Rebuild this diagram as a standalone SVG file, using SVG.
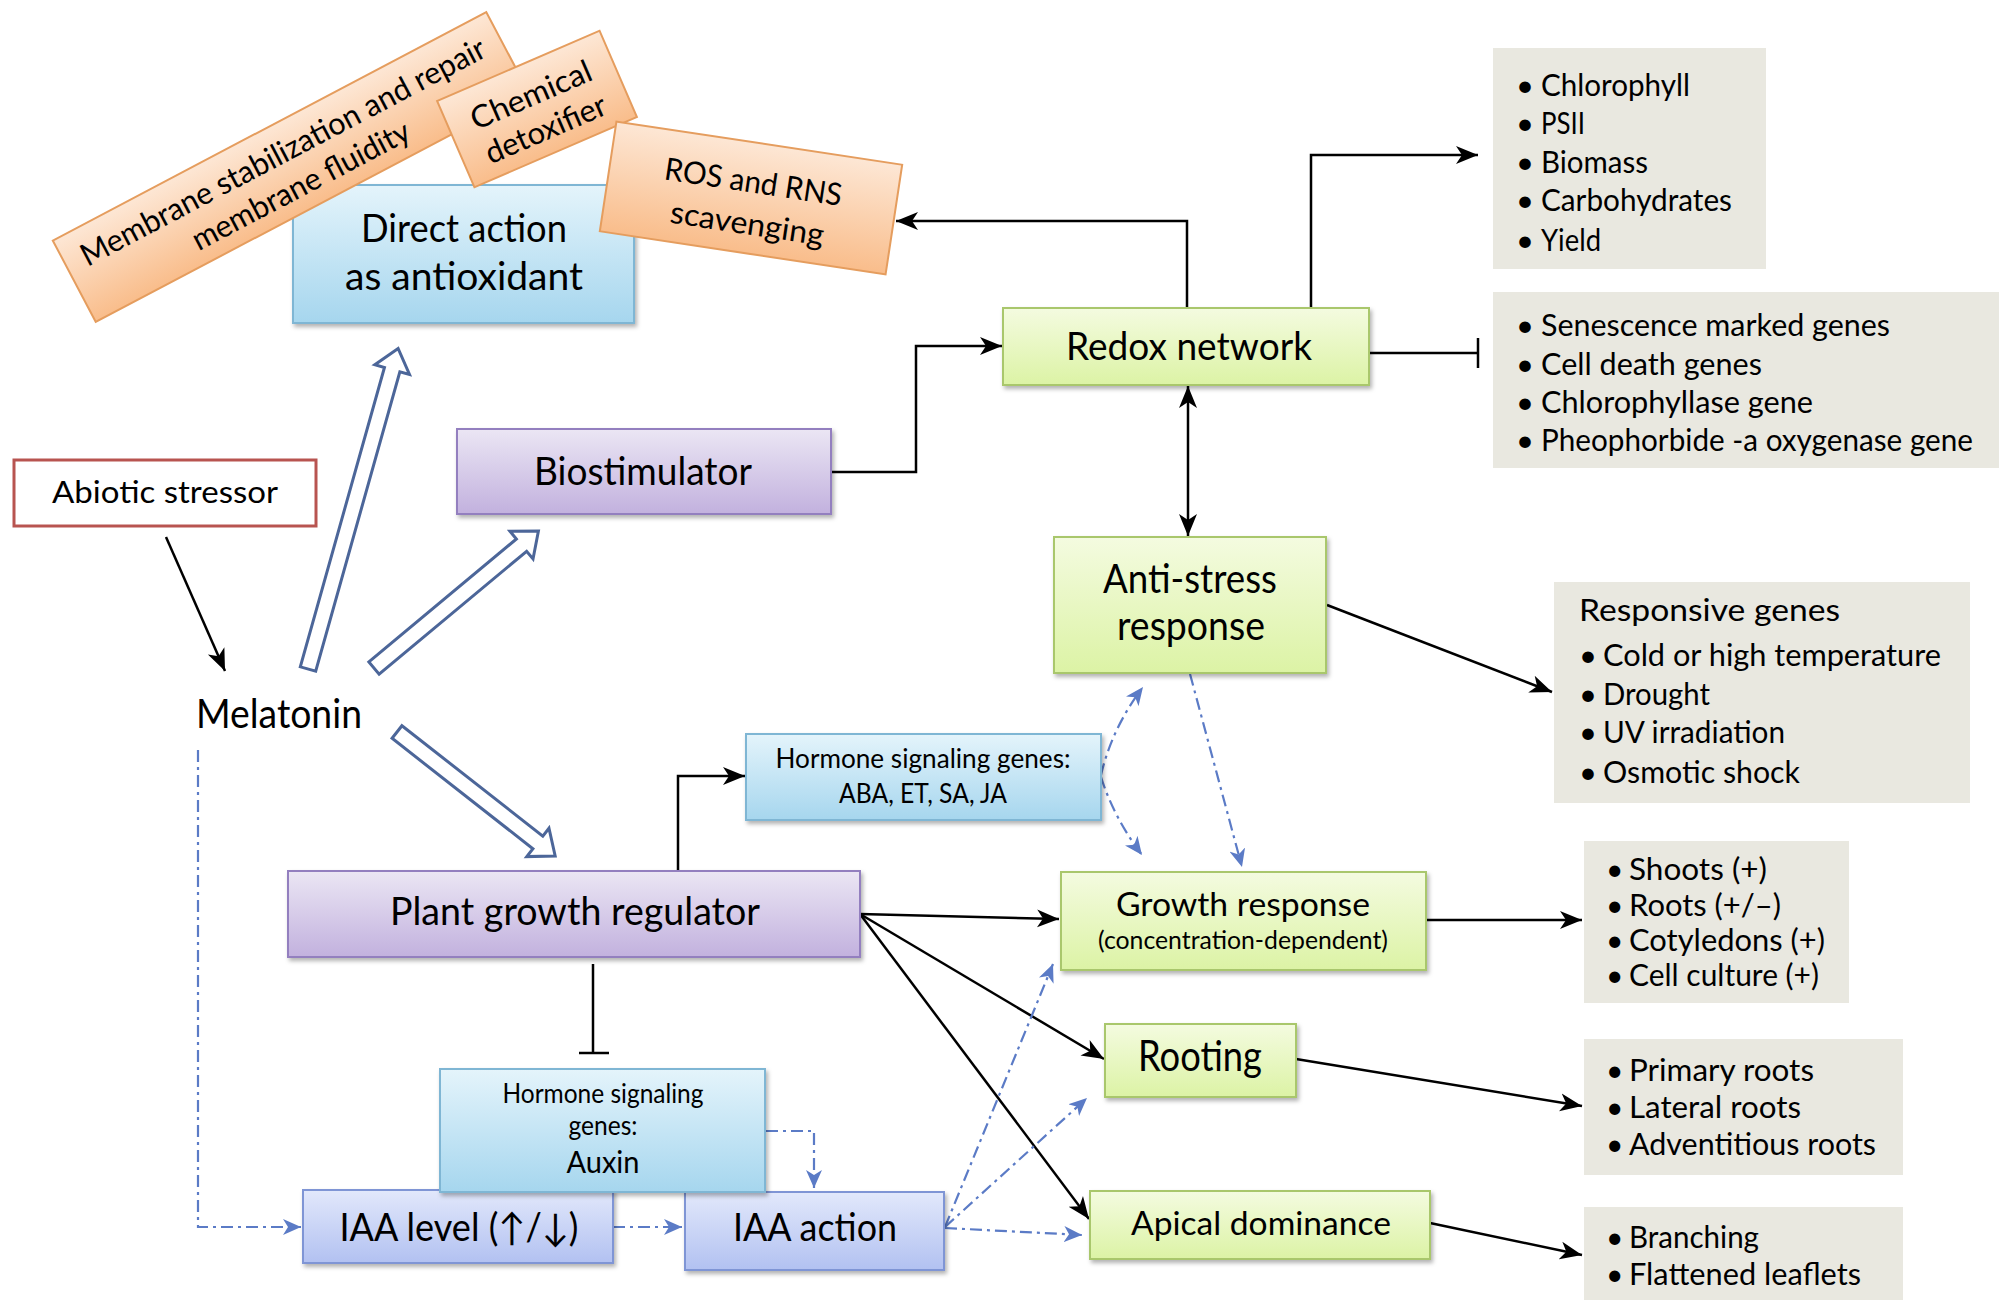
<svg xmlns="http://www.w3.org/2000/svg" width="2001" height="1300" viewBox="0 0 2001 1300">
<defs>
<style>
.t{font-family:Lato,'Liberation Sans','DejaVu Sans',sans-serif;fill:#000;transform:translate(0px,2.5px);}
.c{text-anchor:middle;}
.ln{stroke:#000;stroke-width:2.5;fill:none;}
.dl{stroke:#5B7BC6;stroke-width:2.2;fill:none;stroke-dasharray:12 5 3 5;}
.ha{fill:#fff;stroke:#4C6699;stroke-width:3;stroke-linejoin:miter;}
.gray{fill:#E9E8E0;}
.or{fill:url(#gO);stroke:#E59D5E;stroke-width:2;}
.bl{fill:url(#gB);stroke:#7FB6D4;stroke-width:2;filter:url(#sh);}
.pu{fill:url(#gP);stroke:#937FBF;stroke-width:2;filter:url(#sh);}
.gr{fill:url(#gG);stroke:#A9C76C;stroke-width:2;filter:url(#sh);}
.ia{fill:url(#gI);stroke:#7F95D5;stroke-width:2;filter:url(#sh);}
</style>
<linearGradient id="gO" x1="0" y1="0" x2="0" y2="1"><stop offset="0" stop-color="#FDE7D5"/><stop offset="1" stop-color="#F9BD8B"/></linearGradient>
<linearGradient id="gB" x1="0" y1="0" x2="0" y2="1"><stop offset="0" stop-color="#E4F4FB"/><stop offset="1" stop-color="#A6D6EE"/></linearGradient>
<linearGradient id="gP" x1="0" y1="0" x2="0" y2="1"><stop offset="0" stop-color="#EBE6F4"/><stop offset="1" stop-color="#C2B1DE"/></linearGradient>
<linearGradient id="gG" x1="0" y1="0" x2="0" y2="1"><stop offset="0" stop-color="#F4FBE0"/><stop offset="1" stop-color="#DCF3A5"/></linearGradient>
<linearGradient id="gI" x1="0" y1="0" x2="0" y2="1"><stop offset="0" stop-color="#E2E8FB"/><stop offset="1" stop-color="#B2C1F1"/></linearGradient>
<filter id="sh" x="-10%" y="-10%" width="130%" height="140%"><feDropShadow dx="2" dy="3" stdDeviation="2" flood-color="#000" flood-opacity="0.3"/></filter>
<marker id="ah" markerUnits="userSpaceOnUse" markerWidth="24" markerHeight="20" refX="22" refY="10" orient="auto-start-reverse"><path d="M0,1 L22,10 L0,19 L6,10 z" fill="#000"/></marker>
<marker id="bh" markerUnits="userSpaceOnUse" markerWidth="20" markerHeight="16" refX="18" refY="8" orient="auto"><path d="M0,0 L18,8 L0,16 L5,8 z" fill="#5B7BC6"/></marker>
</defs>
<rect width="2001" height="1300" fill="#fff"/>

<g id="connectors">
<line class="ln" x1="166" y1="537" x2="225" y2="671" marker-end="url(#ah)"/>
<polyline class="ln" points="1187,308 1187,221 896,221" marker-end="url(#ah)"/>
<polyline class="ln" points="1311,308 1311,155 1478,155" marker-end="url(#ah)"/>
<line class="ln" x1="1369" y1="353" x2="1478" y2="353"/>
<line class="ln" x1="1478" y1="338" x2="1478" y2="368"/>
<polyline class="ln" points="831,472 916,472 916,346 1002,346" marker-end="url(#ah)"/>
<line class="ln" x1="1188" y1="386" x2="1188" y2="536" marker-start="url(#ah)" marker-end="url(#ah)"/>
<line class="ln" x1="1327" y1="605" x2="1552" y2="692" marker-end="url(#ah)"/>
<polyline class="ln" points="678,871 678,776 745,776" marker-end="url(#ah)"/>
<line class="ln" x1="860" y1="914" x2="1059" y2="919" marker-end="url(#ah)"/>
<line class="ln" x1="860" y1="914" x2="1104" y2="1059" marker-end="url(#ah)"/>
<line class="ln" x1="860" y1="914" x2="1089" y2="1219" marker-end="url(#ah)"/>
<line class="ln" x1="593" y1="964" x2="593" y2="1053"/>
<line class="ln" x1="579" y1="1053" x2="609" y2="1053"/>
<line class="ln" x1="1426" y1="920" x2="1582" y2="920" marker-end="url(#ah)"/>
<line class="ln" x1="1296" y1="1059" x2="1582" y2="1106" marker-end="url(#ah)"/>
<line class="ln" x1="1430" y1="1223" x2="1582" y2="1255" marker-end="url(#ah)"/>

<polyline class="dl" points="198,750 198,1227 301,1227" marker-end="url(#bh)"/>
<line class="dl" x1="613" y1="1227" x2="682" y2="1227" marker-end="url(#bh)"/>
<polyline class="dl" points="766,1131 814,1131 814,1188" marker-end="url(#bh)"/>
<line class="dl" x1="945" y1="1227" x2="1053" y2="964" marker-end="url(#bh)"/>
<line class="dl" x1="945" y1="1227" x2="1087" y2="1098" marker-end="url(#bh)"/>
<line class="dl" x1="945" y1="1228" x2="1082" y2="1235" marker-end="url(#bh)"/>
<path class="dl" d="M1101,775 Q1112,728 1143,687" marker-end="url(#bh)"/>
<path class="dl" d="M1101,777 Q1114,818 1142,855" marker-end="url(#bh)"/>
<line class="dl" x1="1190" y1="674" x2="1242" y2="867" marker-end="url(#bh)"/>

<polygon class="ha" transform="translate(308,669) rotate(-74.3)" points="0,-8 311,-8 311,-18 333,0 311,18 311,8 0,8"/>
<polygon class="ha" transform="translate(374,668) rotate(-39.8)" points="0,-8 192,-8 192,-18 214,0 192,18 192,8 0,8"/>
<polygon class="ha" transform="translate(397,732) rotate(38.1)" points="0,-8 179,-8 179,-18 201,0 179,18 179,8 0,8"/>
</g>

<g id="direct-action">
<rect class="bl" x="293" y="185" width="341" height="138"/>
<text class="t c" x="464" y="239" font-size="38" textLength="206" lengthAdjust="spacingAndGlyphs">Direct action</text>
<text class="t c" x="464" y="287" font-size="38" textLength="238" lengthAdjust="spacingAndGlyphs">as antioxidant</text>
</g>

<g id="membrane" transform="translate(291,167) rotate(-27.8)">
<rect class="or" x="-245" y="-46" width="490" height="92"/>
<text class="t c" x="0" y="-9" font-size="31" textLength="453" lengthAdjust="spacingAndGlyphs">Membrane stabilization and repair</text>
<text class="t c" x="0" y="29" font-size="31" textLength="242" lengthAdjust="spacingAndGlyphs">membrane fluidity</text>
</g>

<g id="chemical" transform="translate(537,109) rotate(-23.4)">
<rect class="or" x="-88.5" y="-47" width="177" height="94"/>
<text class="t c" x="0" y="-7" font-size="31" textLength="129" lengthAdjust="spacingAndGlyphs">Chemical</text>
<text class="t c" x="0" y="30" font-size="31" textLength="129" lengthAdjust="spacingAndGlyphs">detoxifier</text>
</g>

<g id="ros" transform="translate(751,198) rotate(8.6)">
<rect class="or" x="-144.5" y="-55.5" width="289" height="111"/>
<text class="t c" x="0" y="-8" font-size="31" textLength="179" lengthAdjust="spacingAndGlyphs">ROS and RNS</text>
<text class="t c" x="0" y="34" font-size="31" textLength="155" lengthAdjust="spacingAndGlyphs">scavenging</text>
</g>

<g id="abiotic">
<rect x="14" y="460" width="302" height="66" fill="#fff" stroke="#B85450" stroke-width="3"/>
<text class="t c" x="165" y="500" font-size="31" textLength="226" lengthAdjust="spacingAndGlyphs">Abiotic stressor</text>
</g>

<g id="melatonin">
<text class="t c" x="279" y="725" font-size="40" textLength="166" lengthAdjust="spacingAndGlyphs">Melatonin</text>
</g>

<g id="biostimulator">
<rect class="pu" x="457" y="429" width="374" height="85"/>
<text class="t c" x="643" y="482" font-size="38" textLength="218" lengthAdjust="spacingAndGlyphs">Biostimulator</text>
</g>

<g id="redox">
<rect class="gr" x="1003" y="308" width="366" height="77"/>
<text class="t c" x="1189" y="357" font-size="38" textLength="246" lengthAdjust="spacingAndGlyphs">Redox network</text>
</g>

<g id="anti-stress">
<rect class="gr" x="1054" y="537" width="272" height="136"/>
<text class="t c" x="1190" y="590" font-size="40" textLength="174" lengthAdjust="spacingAndGlyphs">Anti-stress</text>
<text class="t c" x="1191" y="637" font-size="40" textLength="148" lengthAdjust="spacingAndGlyphs">response</text>
</g>

<g id="hormone-aba">
<rect class="bl" x="746" y="734" width="355" height="86"/>
<text class="t c" x="923" y="765" font-size="26" textLength="295" lengthAdjust="spacingAndGlyphs">Hormone signaling genes:</text>
<text class="t c" x="923" y="800" font-size="26" textLength="168" lengthAdjust="spacingAndGlyphs">ABA, ET, SA, JA</text>
</g>

<g id="plant-growth-regulator">
<rect class="pu" x="288" y="871" width="572" height="86"/>
<text class="t c" x="575" y="922" font-size="38" textLength="370" lengthAdjust="spacingAndGlyphs">Plant growth regulator</text>
</g>

<g id="growth-response">
<rect class="gr" x="1061" y="872" width="365" height="98"/>
<text class="t c" x="1243" y="913" font-size="33" textLength="254" lengthAdjust="spacingAndGlyphs">Growth response</text>
<text class="t c" x="1243" y="946" font-size="25" textLength="290" lengthAdjust="spacingAndGlyphs">(concentration-dependent)</text>
</g>

<g id="rooting">
<rect class="gr" x="1105" y="1024" width="191" height="73"/>
<text class="t c" x="1200" y="1068" font-size="43" textLength="124" lengthAdjust="spacingAndGlyphs">Rooting</text>
</g>

<g id="apical-dominance">
<rect class="gr" x="1090" y="1191" width="340" height="68"/>
<text class="t c" x="1261" y="1232" font-size="33" textLength="260" lengthAdjust="spacingAndGlyphs">Apical dominance</text>
</g>

<g id="iaa-level">
<rect class="ia" x="303" y="1190" width="310" height="73"/>
<text class="t c" x="459" y="1238" font-size="38" textLength="239" lengthAdjust="spacingAndGlyphs">IAA level (↑/↓)</text>
</g>

<g id="iaa-action">
<rect class="ia" x="685" y="1192" width="259" height="78"/>
<text class="t c" x="815" y="1238" font-size="38" textLength="164" lengthAdjust="spacingAndGlyphs">IAA action</text>
</g>

<g id="hormone-auxin">
<rect class="bl" x="440" y="1069" width="325" height="123"/>
<text class="t c" x="603" y="1100" font-size="26" textLength="201" lengthAdjust="spacingAndGlyphs">Hormone signaling</text>
<text class="t c" x="603" y="1132" font-size="26" textLength="69" lengthAdjust="spacingAndGlyphs">genes:</text>
<text class="t c" x="603" y="1170" font-size="31" textLength="73" lengthAdjust="spacingAndGlyphs">Auxin</text>
</g>

<g id="list-photosynthesis">
<rect class="gray" x="1493" y="48" width="273" height="221"/>
<text class="t" font-size="31"><tspan x="1516" y="93">•</tspan><tspan x="1516" y="131">•</tspan><tspan x="1516" y="170">•</tspan><tspan x="1516" y="208">•</tspan><tspan x="1516" y="248">•</tspan></text>
<text class="t" x="1541" y="93" font-size="31" textLength="149" lengthAdjust="spacingAndGlyphs">Chlorophyll</text>
<text class="t" x="1541" y="131" font-size="31" textLength="44" lengthAdjust="spacingAndGlyphs">PSII</text>
<text class="t" x="1541" y="170" font-size="31" textLength="107" lengthAdjust="spacingAndGlyphs">Biomass</text>
<text class="t" x="1541" y="208" font-size="31" textLength="191" lengthAdjust="spacingAndGlyphs">Carbohydrates</text>
<text class="t" x="1541" y="248" font-size="31" textLength="60" lengthAdjust="spacingAndGlyphs">Yield</text>
</g>

<g id="list-senescence">
<rect class="gray" x="1493" y="292" width="506" height="176"/>
<text class="t" font-size="31"><tspan x="1516" y="333">•</tspan><tspan x="1516" y="372">•</tspan><tspan x="1516" y="410">•</tspan><tspan x="1516" y="448">•</tspan></text>
<text class="t" x="1541" y="333" font-size="31" textLength="349" lengthAdjust="spacingAndGlyphs">Senescence marked genes</text>
<text class="t" x="1541" y="372" font-size="31" textLength="221" lengthAdjust="spacingAndGlyphs">Cell death genes</text>
<text class="t" x="1541" y="410" font-size="31" textLength="272" lengthAdjust="spacingAndGlyphs">Chlorophyllase gene</text>
<text class="t" x="1541" y="448" font-size="31" textLength="432" lengthAdjust="spacingAndGlyphs">Pheophorbide -a oxygenase gene</text>
</g>

<g id="list-responsive">
<rect class="gray" x="1554" y="582" width="416" height="221"/>
<text class="t" x="1579" y="618" font-size="31" textLength="261" lengthAdjust="spacingAndGlyphs">Responsive genes</text>
<text class="t" font-size="31"><tspan x="1579" y="663">•</tspan><tspan x="1579" y="702">•</tspan><tspan x="1579" y="740">•</tspan><tspan x="1579" y="780">•</tspan></text>
<text class="t" x="1603" y="663" font-size="31" textLength="338" lengthAdjust="spacingAndGlyphs">Cold or high temperature</text>
<text class="t" x="1603" y="702" font-size="31" textLength="107" lengthAdjust="spacingAndGlyphs">Drought</text>
<text class="t" x="1603" y="740" font-size="31" textLength="182" lengthAdjust="spacingAndGlyphs">UV irradiation</text>
<text class="t" x="1603" y="780" font-size="31" textLength="197" lengthAdjust="spacingAndGlyphs">Osmotic shock</text>
</g>

<g id="list-growth">
<rect class="gray" x="1584" y="841" width="265" height="162"/>
<text class="t" font-size="30"><tspan x="1606" y="877">•</tspan><tspan x="1606" y="913">•</tspan><tspan x="1606" y="948">•</tspan><tspan x="1606" y="983">•</tspan></text>
<text class="t" x="1629" y="877" font-size="30" textLength="138" lengthAdjust="spacingAndGlyphs">Shoots (+)</text>
<text class="t" x="1629" y="913" font-size="30" textLength="152" lengthAdjust="spacingAndGlyphs">Roots (+/–)</text>
<text class="t" x="1629" y="948" font-size="30" textLength="196" lengthAdjust="spacingAndGlyphs">Cotyledons (+)</text>
<text class="t" x="1629" y="983" font-size="30" textLength="190" lengthAdjust="spacingAndGlyphs">Cell culture (+)</text>
</g>

<g id="list-roots">
<rect class="gray" x="1584" y="1039" width="319" height="136"/>
<text class="t" font-size="30"><tspan x="1606" y="1078">•</tspan><tspan x="1606" y="1115">•</tspan><tspan x="1606" y="1152">•</tspan></text>
<text class="t" x="1629" y="1078" font-size="30" textLength="185" lengthAdjust="spacingAndGlyphs">Primary roots</text>
<text class="t" x="1629" y="1115" font-size="30" textLength="172" lengthAdjust="spacingAndGlyphs">Lateral roots</text>
<text class="t" x="1629" y="1152" font-size="30" textLength="247" lengthAdjust="spacingAndGlyphs">Adventitious roots</text>
</g>

<g id="list-apical">
<rect class="gray" x="1584" y="1207" width="319" height="93"/>
<text class="t" font-size="30"><tspan x="1606" y="1245">•</tspan><tspan x="1606" y="1282">•</tspan></text>
<text class="t" x="1629" y="1245" font-size="30" textLength="130" lengthAdjust="spacingAndGlyphs">Branching</text>
<text class="t" x="1629" y="1282" font-size="30" textLength="232" lengthAdjust="spacingAndGlyphs">Flattened leaflets</text>
</g>
</svg>
